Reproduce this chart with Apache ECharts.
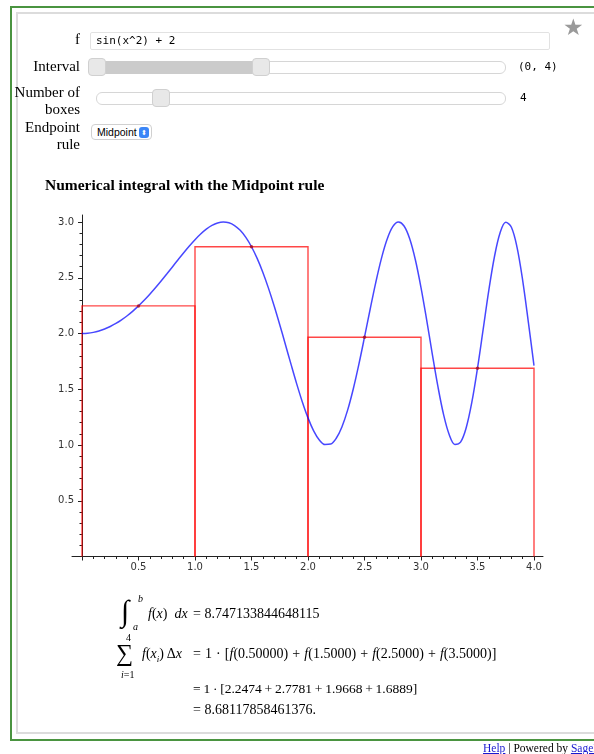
<!DOCTYPE html>
<html>
<head>
<meta charset="utf-8">
<script src="https://cdn.jsdelivr.net/npm/echarts@6/dist/echarts.min.js"></script>
<style>
html,body{margin:0;padding:0;background:#fff;}
body{width:594px;height:754px;overflow:hidden;position:relative;font-family:"Liberation Serif","Times New Roman",serif;color:#000;}
#chart{position:absolute;left:0;top:0;width:594px;height:754px;z-index:0;}
.abs{position:absolute;z-index:1;white-space:nowrap;}
.outer{position:absolute;left:10px;top:6px;width:700px;height:735px;border:2px solid #4a9440;box-sizing:border-box;z-index:1;}
.inner{position:absolute;left:16px;top:12px;width:700px;height:722px;border:2px solid #dcdcdc;box-sizing:border-box;z-index:1;}
.lbl{position:absolute;left:0;width:80px;text-align:right;font-size:15px;line-height:17px;z-index:2;}
.mono{font-family:"DejaVu Sans Mono",monospace;font-size:11px;}
.input{position:absolute;left:90px;top:32px;width:460px;height:18px;border:1px solid #e2e2e2;box-sizing:border-box;border-radius:2px;padding-left:5px;line-height:16px;z-index:2;}
.track{position:absolute;height:13px;border:1px solid #d6d6d6;border-radius:6px;background:#fff;box-sizing:border-box;z-index:2;}
.fill{position:absolute;height:13px;background:#cbcbcb;z-index:3;}
.handle{position:absolute;width:18px;height:18px;border:1px solid #d0d0d0;border-radius:4px;background:#e8e8e8;box-sizing:border-box;z-index:4;}
.sel{position:absolute;left:91px;top:124px;width:61px;height:16px;border:1px solid #d0d0d0;border-radius:4px;box-sizing:border-box;font-family:"Liberation Sans",Arial,sans-serif;font-size:10.5px;line-height:14px;padding-left:5px;z-index:2;background:#fff;}
.selicon{position:absolute;right:2px;top:1.5px;width:10px;height:11px;border-radius:3px;background:#3b86f7;color:#fff;font-size:7px;line-height:11px;text-align:center;}
.title{position:absolute;left:45px;top:175px;font-size:15.5px;font-weight:bold;line-height:20px;z-index:2;}
.m{position:absolute;font-family:"Liberation Serif","Times New Roman",serif;font-size:14px;line-height:16px;z-index:2;white-space:nowrap;}
.mi{font-style:italic;}
.star{position:absolute;left:563px;top:14px;font-size:23px;color:#9a9a9a;z-index:2;font-family:"DejaVu Sans",sans-serif;}
.foot{position:absolute;left:483px;top:741px;font-size:11.5px;line-height:14px;z-index:2;white-space:nowrap;}
.foot a{color:#1a1ad0;text-decoration:underline;}
</style>
</head>
<body>
<div id="chart"></div>
<div class="outer"></div>
<div class="inner"></div>
<div class="star">★</div>

<div class="lbl" style="top:31px;">f</div>
<div class="input mono">sin(x^2) + 2</div>

<div class="lbl" style="top:58px;">Interval</div>
<div class="track" style="left:88px;top:61px;width:418px;"></div>
<div class="fill" style="left:97px;top:61px;width:164px;"></div>
<div class="handle" style="left:88px;top:58px;"></div>
<div class="handle" style="left:252px;top:58px;"></div>
<div class="abs mono" style="left:518px;top:60px;line-height:14px;">(0, 4)</div>

<div class="lbl" style="top:84px;">Number of<br>boxes</div>
<div class="track" style="left:96px;top:92px;width:410px;"></div>
<div class="handle" style="left:152px;top:89px;"></div>
<div class="abs mono" style="left:520px;top:91px;line-height:14px;">4</div>

<div class="lbl" style="top:119px;">Endpoint<br>rule</div>
<div class="sel">Midpoint<div class="selicon">&#x2B0D;</div></div>

<div class="title">Numerical integral with the Midpoint rule</div>

<!-- math -->
<div class="m" style="left:121px;top:594px;font-size:30px;line-height:34px;">∫</div>
<div class="m mi" style="left:138px;top:593px;font-size:10px;line-height:11px;">b</div>
<div class="m mi" style="left:133px;top:621px;font-size:10px;line-height:11px;">a</div>
<div class="m" style="left:148px;top:606px;"><span class="mi">f</span>(<span class="mi">x</span>)&#8194;<span class="mi">dx</span></div>
<div class="m" style="left:193px;top:606px;">= 8.747133844648115</div>

<div class="m" style="left:116px;top:641px;font-size:24px;line-height:24px;">∑</div>
<div class="m" style="left:126px;top:632px;font-size:10px;line-height:11px;">4</div>
<div class="m" style="left:121px;top:669px;font-size:10px;line-height:11px;"><span class="mi">i</span>=1</div>
<div class="m" style="left:142px;top:646px;"><span class="mi">f</span>(<span class="mi">x<sub style="font-size:9px;">i</sub></span>)&#8201;Δ<span class="mi">x</span></div>
<div class="m" style="left:193px;top:646px;word-spacing:0.6px;">= 1 · [<span class="mi">f</span>(0.50000) + <span class="mi">f</span>(1.5000) + <span class="mi">f</span>(2.5000) + <span class="mi">f</span>(3.5000)]</div>

<div class="m" style="left:193px;top:681px;font-size:13.5px;word-spacing:-0.6px;">= 1 · [2.2474 + 2.7781 + 1.9668 + 1.6889]</div>
<div class="m" style="left:193px;top:702px;">= 8.68117858461376.</div>

<div class="foot"><a>Help</a> | Powered by <a>SageMath</a></div>

<script>
// curve samples of f(x) = sin(x^2) + 2
var curveX = [0.00,0.05,0.10,0.15,0.20,0.25,0.30,0.35,0.40,0.45,
  0.50,0.55,0.60,0.65,0.70,0.75,0.80,0.85,0.90,0.95,
  1.00,1.05,1.10,1.15,1.20,1.25,1.30,1.35,1.40,1.45,
  1.50,1.55,1.60,1.65,1.70,1.75,1.80,1.85,1.90,1.95,
  2.00,2.05,2.10,2.15,2.20,2.25,2.30,2.35,2.40,2.45,
  2.50,2.55,2.60,2.65,2.70,2.75,2.80,2.85,2.90,2.95,
  3.00,3.05,3.10,3.15,3.20,3.25,3.30,3.35,3.40,3.45,
  3.50,3.55,3.60,3.65,3.70,3.75,3.80,3.85,3.90,3.95,4.00];
var curveY = [2.0000,2.0025,2.0100,2.0225,2.0400,2.0625,2.0899,2.1222,2.1593,2.2011,
  2.2474,2.2979,2.3523,2.4100,2.4706,2.5333,2.5972,2.6613,2.7243,2.7849,
  2.8415,2.8923,2.9356,2.9693,2.9915,3.0000,2.9929,2.9685,2.9252,2.8619,
  2.7781,2.6736,2.5494,2.4069,2.2489,2.0790,1.9018,1.7228,1.5485,1.3862,
  1.2432,1.1272,1.0454,1.0040,1.0081,1.0607,1.1622,1.3106,1.5004,1.7230,
  1.9668,2.2176,2.4589,2.6738,2.8451,2.9578,2.9999,2.9642,2.8494,2.6611,
  2.4121,2.1220,1.8158,1.5226,1.2721,1.0923,1.0056,1.0256,1.1551,1.3838,
  1.6889,2.0361,2.3865,2.6884,2.9030,2.9974,2.9535,2.7722,2.4748,2.1021,1.7121];
// midpoint boxes
var boxLeft   = [0, 1, 2, 3];
var boxRight  = [1, 2, 3, 4];
var boxMid    = [0.5, 1.5, 2.5, 3.5];
var boxHeight = [2.2474, 2.7781, 1.9668, 1.6889];
// axis ticks
var xTicks = ['0.5','1.0','1.5','2.0','2.5','3.0','3.5','4.0'];
var yTicks = ['0.5','1.0','1.5','2.0','2.5','3.0'];

var curveData = curveX.map(function(x,i){return [x, curveY[i]];});
var boxData = boxLeft.map(function(l,i){return [l, boxRight[i], boxHeight[i]];});
var midData = boxMid.map(function(m,i){return [m, boxHeight[i]];});

var chart = echarts.init(document.getElementById('chart'), null, {renderer:'canvas'});
var axisCol = '#222';
var labelStyle = {color:'#333', fontFamily:'DejaVu Sans, sans-serif', fontSize:10};
var option = {
  animation:false,
  grid:[
    {left:82, width:452, top:222, height:334.5, containLabel:false},
    {left:72, width:471, top:215, height:341.5, containLabel:false}
  ],
  xAxis:[
    {gridIndex:0, type:'value', min:0, max:4, interval:0.5,
     axisLine:{show:false},
     axisTick:{show:true, length:4, lineStyle:{color:axisCol}},
     minorTick:{show:true, splitNumber:5, length:2.5, lineStyle:{color:axisCol}},
     splitLine:{show:false}, minorSplitLine:{show:false},
     axisLabel:Object.assign({margin:6, showMinLabel:false, formatter:function(v){return xTicks.indexOf(v.toFixed(1))>=0? v.toFixed(1):'';}}, labelStyle)},
    {gridIndex:1, type:'value', min:-0.0885, max:4.0796,
     axisLine:{show:true, onZero:false, lineStyle:{color:axisCol, width:1}},
     axisTick:{show:false}, axisLabel:{show:false}, splitLine:{show:false}}
  ],
  yAxis:[
    {gridIndex:0, type:'value', min:0, max:3, interval:0.5,
     axisLine:{show:false},
     axisTick:{show:true, length:4, lineStyle:{color:axisCol}},
     minorTick:{show:true, splitNumber:5, length:2.5, lineStyle:{color:axisCol}},
     splitLine:{show:false}, minorSplitLine:{show:false},
     axisLabel:Object.assign({margin:8, showMinLabel:false, formatter:function(v){return yTicks.indexOf(v.toFixed(1))>=0? v.toFixed(1):'';}}, labelStyle)},
    {gridIndex:1, type:'value', min:0, max:3.06,
     axisLine:{show:true, onZero:true, lineStyle:{color:axisCol, width:1}},
     axisTick:{show:false}, axisLabel:{show:false}, splitLine:{show:false}}
  ],
  series:[
    {type:'custom', xAxisIndex:0, yAxisIndex:0, data:boxData, clip:false, z:2,
     renderItem:function(params, api){
       var l=api.value(0), r=api.value(1), h=api.value(2);
       var p0=api.coord([l,0]), p1=api.coord([l,h]), p2=api.coord([r,h]), p3=api.coord([r,0]);
       return {type:'polyline', shape:{points:[p0,p1,p2,p3]},
         style:{stroke:'rgba(255,0,0,0.72)', lineWidth:1.4, fill:null}};
     }},
    {type:'line', xAxisIndex:0, yAxisIndex:0, data:curveData, smooth:0.35, showSymbol:false, clip:false, z:3,
     lineStyle:{color:'rgba(0,0,255,0.72)', width:1.5}},
    {type:'scatter', xAxisIndex:0, yAxisIndex:0, data:midData, symbolSize:3.5, z:4,
     itemStyle:{color:'#b0101a'}}
  ]
};
chart.setOption(option);
</script>
</body>
</html>
